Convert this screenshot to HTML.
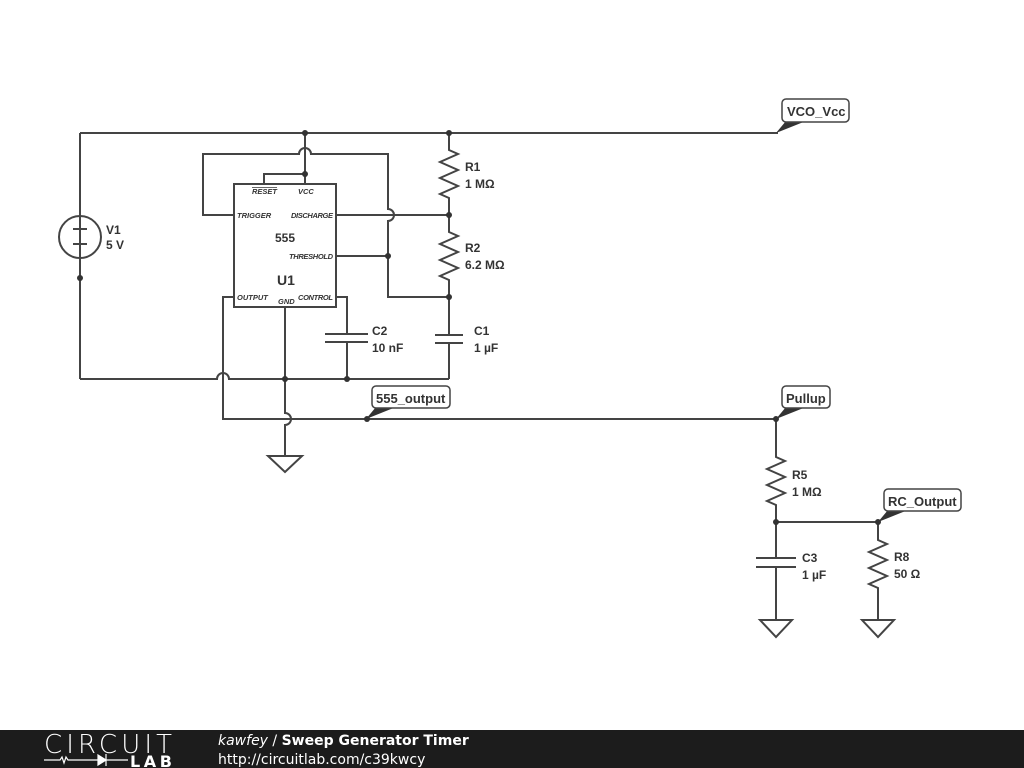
<!DOCTYPE html>
<html><head><meta charset="utf-8"><style>
html,body{margin:0;padding:0;background:#fff;}
svg{display:block;}
text{font-family:"Liberation Sans",sans-serif;fill:#333;}
.l{font-size:12px;font-weight:bold;}
.p{font-size:7.5px;font-style:italic;font-weight:bold;}
</style></head><body>
<svg width="1024" height="768" viewBox="0 0 1024 768" xmlns="http://www.w3.org/2000/svg">
<g stroke="#444" stroke-width="2" fill="none" stroke-linejoin="miter">
<path d="M80 133 H778"/>
<path d="M80 133 V216 M80 258 V379"/>
<circle cx="80" cy="237" r="21"/>
<path d="M80 216 V258 M73 229 H87 M73 244 H87"/>
<path d="M80 379 H217 A6 6 0 0 1 229 379 H449"/>
<rect x="234" y="184" width="102" height="123"/>
<path d="M305 133 V184 M264 184 V174 H305"/>
<path d="M234 215 H203 V154 H299 A6 6 0 0 1 311 154 H388 V209 A6 6 0 0 1 388 221 V297 H449"/>
<path d="M336 215 H449"/>
<path d="M336 256 H388"/>
<path d="M449 133 V150 L458 154 L440 162 L458 170 L440 178 L458 186 L440 194 L449 198 V215"/>
<path d="M449 215 V232 L458 236 L440 244 L458 252 L440 260 L458 268 L440 276 L449 280 V297"/>
<path d="M449 297 V335 M435 335 H463 M435 343 H463 M449 343 V379"/>
<path d="M336 297 H347 V334 M325 334 H368 M325 342 H368 M347 342 V379"/>
<path d="M285 307 V413 A6 6 0 0 1 285 425 V456"/>
<path d="M268 456 H302 L285 472 Z"/>
<path d="M234 297 H223 V419 H776"/>
<path d="M776 419 V457 L785 461 L767 469 L785 477 L767 485 L785 493 L767 501 L776 505 V558 M756 558 H796 M756 567 H796 M776 567 V620"/>
<path d="M760 620 H792 L776 637 Z"/>
<path d="M776 522 H878 V540 L887 544 L869 552 L887 560 L869 568 L887 576 L869 584 L878 588 V620"/>
<path d="M862 620 H894 L878 637 Z"/>
</g>
<g fill="#333">
<circle cx="305" cy="133" r="3"/><circle cx="449" cy="133" r="3"/><circle cx="305" cy="174" r="3"/>
<circle cx="449" cy="215" r="3"/><circle cx="388" cy="256" r="3"/><circle cx="449" cy="297" r="3"/>
<circle cx="285" cy="379" r="3"/><circle cx="347" cy="379" r="3"/><circle cx="80" cy="278" r="3"/>
<circle cx="367" cy="419" r="3"/><circle cx="776" cy="419" r="3"/><circle cx="776" cy="522" r="3"/><circle cx="878" cy="522" r="3"/>
</g>
<g fill="#333">
<path d="M786 121 L776 133 L806 121 Z"/>
<path d="M376 407 L366 419 L396 407 Z"/>
<path d="M786 407 L776 419 L806 407 Z"/>
<path d="M888 510 L878 522 L908 510 Z"/>
</g>
<g fill="#fff" stroke="#444" stroke-width="1.5">
<rect x="782" y="99" width="67" height="23" rx="4"/>
<rect x="372" y="386" width="78" height="22" rx="4"/>
<rect x="782" y="386" width="48" height="22" rx="4"/>
<rect x="884" y="489" width="77" height="22" rx="4"/>
</g>
<text class="l" x="787" y="116" style="font-size:13px">VCO_Vcc</text>
<text class="l" x="376" y="403" style="font-size:13px">555_output</text>
<text class="l" x="786" y="403" style="font-size:13px">Pullup</text>
<text class="l" x="888" y="506" style="font-size:13px">RC_Output</text>
<text class="l" x="106" y="234">V1</text><text class="l" x="106" y="249">5 V</text>
<text class="l" x="465" y="171">R1</text><text class="l" x="465" y="188">1 MΩ</text>
<text class="l" x="465" y="252">R2</text><text class="l" x="465" y="269">6.2 MΩ</text>
<text class="l" x="474" y="335">C1</text><text class="l" x="474" y="352">1 µF</text>
<text class="l" x="372" y="335">C2</text><text class="l" x="372" y="352">10 nF</text>
<text class="l" x="792" y="479">R5</text><text class="l" x="792" y="496">1 MΩ</text>
<text class="l" x="802" y="562">C3</text><text class="l" x="802" y="579">1 µF</text>
<text class="l" x="894" y="561">R8</text><text class="l" x="894" y="578">50 Ω</text>
<text class="l" x="275" y="242">555</text>
<text class="l" x="277" y="285" style="font-size:14px">U1</text>
<text class="p" x="252" y="194" text-decoration="overline">RESET</text>
<text class="p" x="298" y="194">VCC</text>
<text class="p" x="237" y="218">TRIGGER</text>
<text class="p" x="291" y="218" textLength="42">DISCHARGE</text>
<text class="p" x="289" y="259" textLength="44">THRESHOLD</text>
<text class="p" x="237" y="300">OUTPUT</text>
<text class="p" x="278" y="304">GND</text>
<text class="p" x="298" y="300" textLength="35">CONTROL</text>
<rect x="0" y="730" width="1024" height="38" fill="#1c1c1c"/>
<text x="44" y="753" textLength="128" style="font-size:26px;fill:#fff;font-family:'DejaVu Sans',sans-serif;font-weight:200">CIRCUIT</text>
<path d="M44 760 H60 l2 -3 l2 6 l2 -6 l2 3 H98" stroke="#fff" stroke-width="1.2" fill="none"/>
<path d="M98 755 L106 760 L98 765 Z M106 754 V766 M106 760 H128" fill="#fff" stroke="#fff" stroke-width="1.2"/>
<text x="130" y="767" textLength="42" style="font-size:16px;font-weight:bold;fill:#fff;font-family:'DejaVu Sans',sans-serif">LAB</text>
<text x="218" y="745" style="font-size:14px;fill:#fff;font-family:'DejaVu Sans',sans-serif"><tspan font-style="italic">kawfey</tspan> / <tspan font-weight="bold">Sweep Generator Timer</tspan></text>
<text x="218" y="764" style="font-size:14px;fill:#fff;font-family:'DejaVu Sans',sans-serif">http://circuitlab.com/c39kwcy</text>
</svg>
</body></html>
